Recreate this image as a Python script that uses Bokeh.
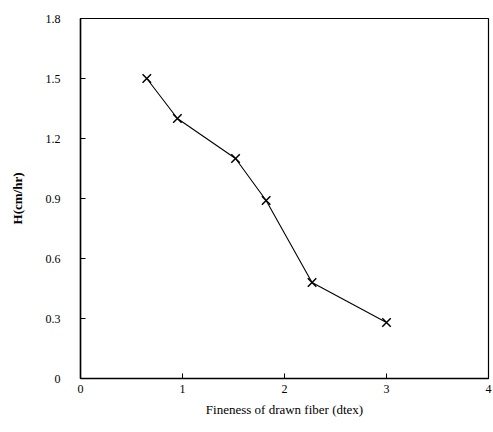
from bokeh.plotting import figure
from bokeh.models import FixedTicker, Range1d
from bokeh.embed import file_html
from bokeh.resources import INLINE

fineness = [0.65, 0.95, 1.52, 1.82, 2.27, 3.0]
h_rate = [1.50, 1.30, 1.10, 0.89, 0.48, 0.28]
x_ticks = [0, 1, 2, 3, 4]
y_ticks = [0, 0.3, 0.6, 0.9, 1.2, 1.5, 1.8]
y_labels = {0: "0", 0.3: "0.3", 0.6: "0.6", 0.9: "0.9", 1.2: "1.2", 1.5: "1.5", 1.8: "1.8"}

FONT = "Liberation Serif"

p = figure(width=493, height=432, output_backend="svg", toolbar_location=None,
           x_range=Range1d(0, 4), y_range=Range1d(0, 1.8),
           min_border_left=80, min_border_right=5, min_border_top=18, min_border_bottom=54)
p.grid.visible = False
p.outline_line_color = "black"
p.outline_line_width = 1.2
p.background_fill_color = "white"
p.border_fill_color = "white"

p.line(fineness, h_rate, line_color="black", line_width=1.1)
p.scatter(fineness, h_rate, marker="x", size=12, line_color="black", line_width=1.5)

p.xaxis.ticker = FixedTicker(ticks=x_ticks)
p.yaxis.ticker = FixedTicker(ticks=y_ticks)
p.yaxis.major_label_overrides = y_labels

for ax in (p.xaxis[0], p.yaxis[0]):
    ax.axis_line_color = "black"
    ax.axis_line_width = 1.5
    ax.major_tick_in = 5
    ax.major_tick_out = 0
    ax.minor_tick_in = 0
    ax.minor_tick_out = 0
    ax.major_tick_line_color = "black"
    ax.major_label_text_font = FONT
    ax.major_label_text_font_size = "12px"
    ax.major_label_text_color = "black"
    ax.axis_label_text_font = FONT
    ax.axis_label_text_font_style = "normal"
    ax.axis_label_text_color = "black"

p.xaxis.axis_label = "Fineness of drawn fiber (dtex)"
p.xaxis.axis_label_text_font_size = "13px"
p.xaxis.major_label_standoff = 6
p.xaxis.axis_label_standoff = 6
p.yaxis.axis_label = "H(cm/hr)"
p.yaxis.axis_label_text_font_size = "13px"
p.yaxis.axis_label_text_font_style = "bold"
p.yaxis.major_label_standoff = 20
p.yaxis.axis_label_standoff = 18

open("out.html", "w").write(file_html(p, INLINE))
